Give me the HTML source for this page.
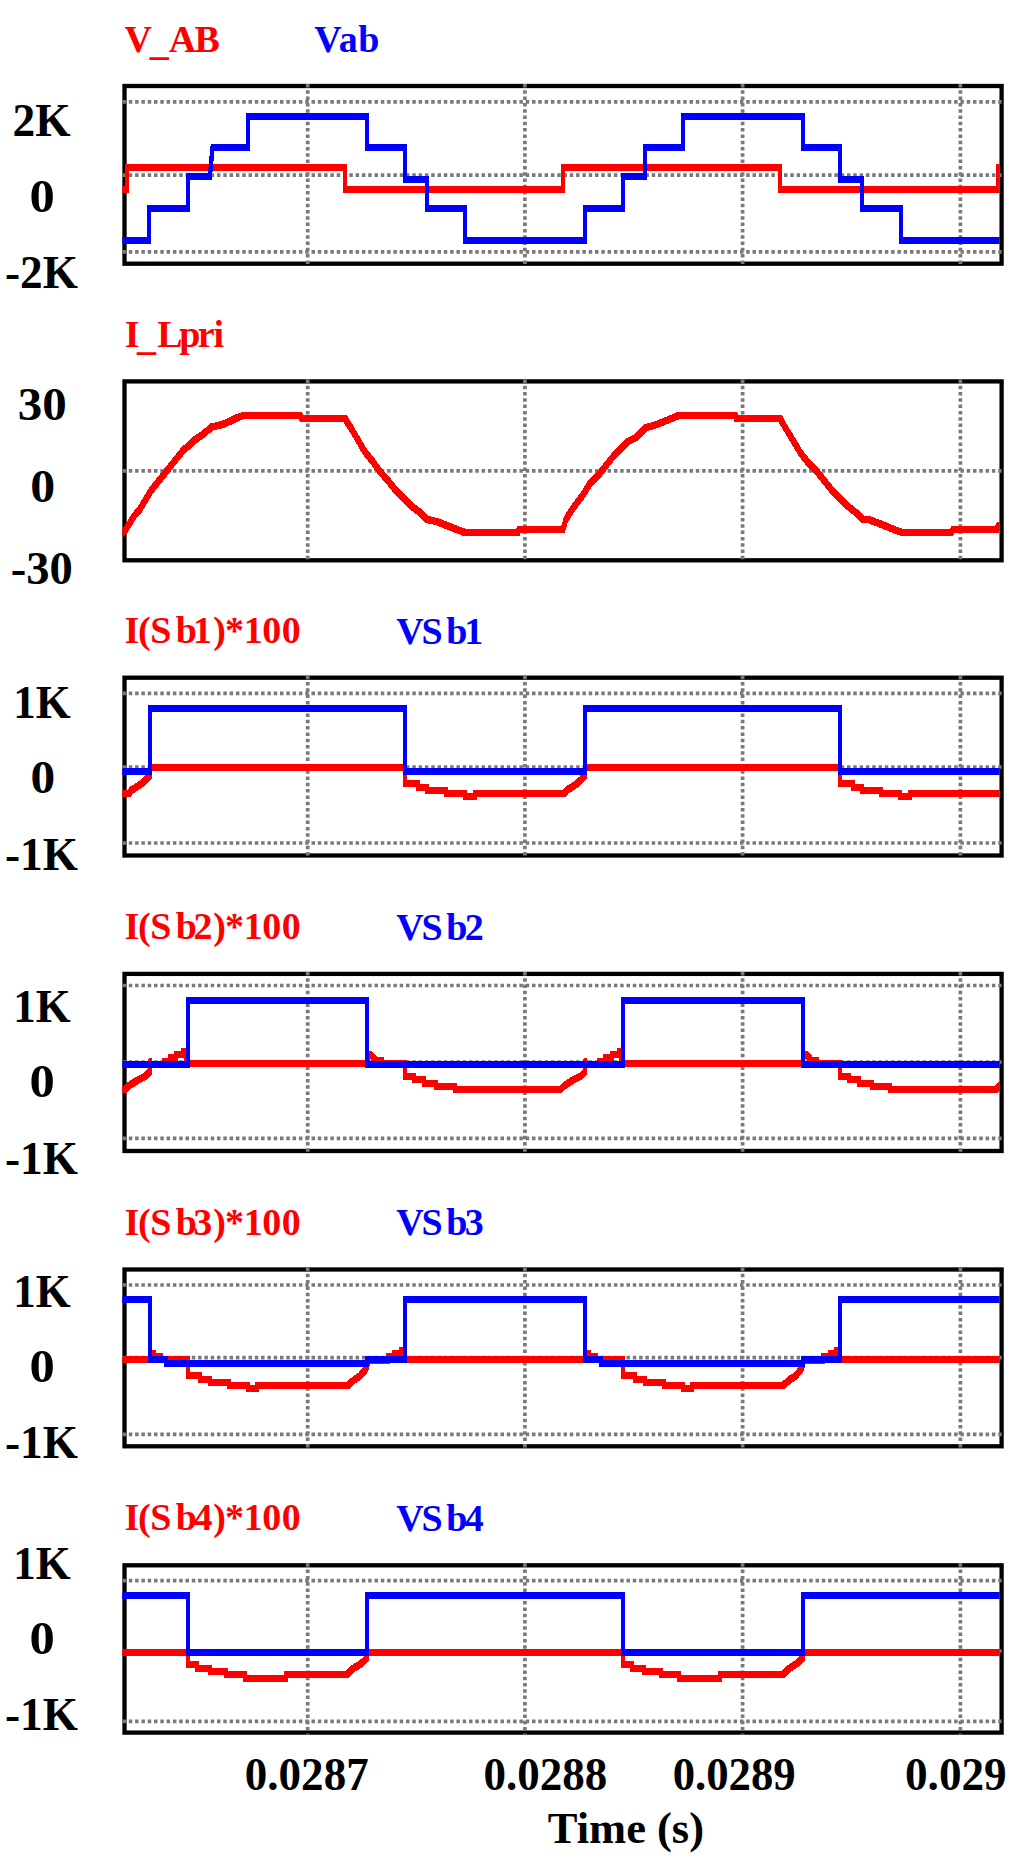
<!DOCTYPE html><html><head><meta charset="utf-8"><style>html,body{margin:0;padding:0;background:#fff;}svg{display:block;}text{font-family:"Liberation Serif",serif;font-weight:bold;}</style></head><body>
<svg width="1024" height="1863" viewBox="0 0 1024 1863">
<rect width="1024" height="1863" fill="#fff"/>
<rect x="124.5" y="86" width="877.1" height="177.7" fill="none" stroke="#000" stroke-width="4.3"/>
<rect x="124.5" y="381.4" width="877.1" height="178.9" fill="none" stroke="#000" stroke-width="4.3"/>
<rect x="124.5" y="677.7" width="877.1" height="177.8" fill="none" stroke="#000" stroke-width="4.3"/>
<rect x="124.5" y="973.9" width="877.1" height="177.1" fill="none" stroke="#000" stroke-width="4.3"/>
<rect x="124.5" y="1269.5" width="877.1" height="176.8" fill="none" stroke="#000" stroke-width="4.3"/>
<rect x="124.5" y="1565.3" width="877.1" height="167.3" fill="none" stroke="#000" stroke-width="4.3"/>
<path d="M122.5 101.9H1003.6M122.5 175.1H1003.6M122.5 251.9H1003.6M307.7 84V265.7M524.9 84V265.7M742.6 84V265.7M960.4 84V265.7M122.5 470.9H1003.6M307.7 379.4V562.3M524.9 379.4V562.3M742.6 379.4V562.3M960.4 379.4V562.3M122.5 693.4H1003.6M122.5 767H1003.6M122.5 843H1003.6M307.7 675.7V857.5M524.9 675.7V857.5M742.6 675.7V857.5M960.4 675.7V857.5M122.5 985.5H1003.6M122.5 1062H1003.6M122.5 1138.4H1003.6M307.7 971.9V1153M524.9 971.9V1153M742.6 971.9V1153M960.4 971.9V1153M122.5 1285H1003.6M122.5 1357.7H1003.6M122.5 1434.4H1003.6M307.7 1267.5V1448.3M524.9 1267.5V1448.3M742.6 1267.5V1448.3M960.4 1267.5V1448.3M122.5 1580.7H1003.6M122.5 1651H1003.6M122.5 1721.4H1003.6M307.7 1563.3V1734.6M524.9 1563.3V1734.6M742.6 1563.3V1734.6M960.4 1563.3V1734.6" stroke="#7a7a7a" stroke-width="3.7" stroke-linecap="butt" stroke-dasharray="3.5 2.8" fill="none"/>
<defs><filter id="pen" color-interpolation-filters="sRGB" filterUnits="userSpaceOnUse" x="0" y="0" width="1024" height="1863"><feMorphology operator="dilate" radius="1.0 2.0" result="d"/><feOffset in="d" dx="0" dy="1" result="o"/><feMerge><feMergeNode in="d"/><feMergeNode in="o"/></feMerge><feComponentTransfer><feFuncA type="linear" slope="3" intercept="-0.15"/></feComponentTransfer></filter></defs>
<clipPath id="cp"><rect x="122.3" y="0" width="877.4" height="1863"/></clipPath>
<g clip-path="url(#cp)">
<path d="M119 188.9 L127.3 188.9 L127.3 166.5 L345 166.5 L345 188.9 L562.7 188.9 L562.7 166.5 L780.1 166.5 L780.1 188.9 L998 188.9 L998 166.5 L1006 166.5" stroke="#ff0000" stroke-width="2.0" fill="none" shape-rendering="crispEdges" filter="url(#pen)"/>
<path d="M119 239.7 L149.3 239.7 L149.3 207.9 L188.2 207.9 L188.2 175.8 L209.9 175.8 L212.6 146.9 L248 146.9 L248 115.5 L366.9 115.5 L366.9 146.9 L405 146.9 L405 179.1 L427.4 179.1 L427.4 207.6 L465 207.6 L465 239.7 L585 239.7 L585 207.8 L623 207.8 L623 175.8 L645 175.8 L645 147.1 L682.8 147.1 L682.8 115.5 L802.8 115.5 L802.8 147.1 L840.4 147.1 L840.4 179 L862.2 179 L862.2 208 L900.8 208 L900.8 239.6 L1006 239.6" stroke="#0000ff" stroke-width="2.0" fill="none" shape-rendering="crispEdges" filter="url(#pen)"/>
<path d="M119 534.5 L125.9 528.8 L133.7 516.1 L139.5 509.3 L145.4 499.5 L151.3 489.7 L159.1 480 L166.9 470.2 L174.7 460.4 L182.5 450.7 L194.2 439.9 L204 433.1 L211.8 426.3 L221.6 424.3 L229.4 421 L237.2 417.1 L245 414.5 L299.7 414.5 L301.6 417.5 L344.9 417.5 L346.9 421.4 L350.8 427.2 L356.6 437 L364.5 450.7 L372.3 460.4 L380.1 471.2 L387.9 480 L395.7 489.7 L403.5 497.5 L411.3 505.4 L419.1 511.2 L427 519 L436.7 521 L446.5 524.9 L456.3 528.8 L464.1 531.7 L518 531.7 L519 528.8 L563 528.8 L565.9 519 L571.8 509.3 L577.7 501.5 L583.5 493.6 L589.4 483.9 L597.2 476.1 L605 466.3 L612.8 456.5 L620.6 448.7 L628.4 440.9 L636.3 437 L646 427.2 L655.8 424.3 L665.5 420.4 L675.3 416.5 L679.5 414.5 L735.2 414.5 L736.2 417.9 L780.1 417.9 L783 423.3 L788.9 433.1 L794.8 442.9 L800.6 452.6 L808.4 462.4 L816.3 470.2 L824.1 480 L831.9 489.7 L839.7 497.5 L847.5 505.4 L857.3 513.2 L862.2 518.5 L869.8 519.5 L877.4 522.3 L886.8 526.1 L896.3 529.9 L902 531.8 L951.3 531.8 L953.2 528.9 L996.7 528.9 L998.6 525.1 L1006 525.1" stroke="#ff0000" stroke-width="2.0" fill="none" shape-rendering="crispEdges" filter="url(#pen)"/>
<path d="M119 793.1 L128.9 793 L131.7 789.5 L136.7 786.5 L141.7 783 L145.7 779.5 L149.5 775.5 L149.5 767.2 L404.9 767.2 L404.9 783.1 L417.6 783.1 L417.6 786.7 L426.7 786.7 L426.7 789.9 L445.9 789.9 L445.9 793.1 L464.8 793.1 L464.8 796.3 L474.5 796.3 L474.5 793.1 L564.2 793 L567 789.5 L572 786.5 L577 783 L581 779.5 L584.8 775.5 L584.8 767.2 L840.2 767.2 L840.2 783.1 L852.9 783.1 L852.9 786.7 L862 786.7 L862 789.9 L881.2 789.9 L881.2 793.1 L900.1 793.1 L900.1 796.3 L909.8 796.3 L909.8 793.1 L1006 793.1" stroke="#ff0000" stroke-width="2.0" fill="none" shape-rendering="crispEdges" filter="url(#pen)"/>
<path d="M119 771.1 L150 771.1 L150 707.6 L404.8 707.6 L404.8 771.1 L585 771.1 L585 707.6 L840.4 707.6 L840.4 771.1 L1006 771.1" stroke="#0000ff" stroke-width="2.0" fill="none" shape-rendering="crispEdges" filter="url(#pen)"/>
<path d="M119 1088.8 L125.5 1088.8 L129.4 1085 L134.8 1081.5 L138.8 1079 L145.8 1075.5 L149.8 1071.5 L149.8 1060.7 L150.8 1063.5 L163.8 1063.5 L163.8 1060.7 L170 1060.7 L170 1057.1 L176.3 1057.1 L176.3 1054 L183.3 1054 L183.3 1050.9 L185.8 1050.9 L185.8 1063.3 L367.1 1063.3 L368.1 1053.8 L371.1 1054.5 L373.6 1057.3 L375.9 1060.3 L381.8 1060.3 L381.8 1063.3 L404.5 1063.3 L404.5 1076.1 L414.1 1076.1 L414.1 1079.3 L423.5 1079.3 L423.5 1082.5 L436.4 1082.5 L436.4 1085.7 L455.1 1085.7 L455.1 1089 L560.7 1088.8 L564.6 1085 L570 1081.5 L574 1079 L581 1075.5 L585 1071.5 L585 1060.7 L586 1063.5 L599 1063.5 L599 1060.7 L605.2 1060.7 L605.2 1057.1 L611.5 1057.1 L611.5 1054 L618.5 1054 L618.5 1050.9 L621 1050.9 L621 1063.3 L802.6 1063.3 L803.6 1053.8 L806.6 1054.5 L809.1 1057.3 L811.4 1060.3 L817.3 1060.3 L817.3 1063.3 L839.8 1063.3 L839.8 1076.1 L849.4 1076.1 L849.4 1079.3 L858.8 1079.3 L858.8 1082.5 L871.7 1082.5 L871.7 1085.7 L890.4 1085.7 L890.4 1089 L996 1088.8 L999.9 1085 L1005.3 1081.5 L1009.3 1079 L1016.3 1075.5 L1020.3 1071.5 L1020.3 1060.7 L1021.3 1063.5 L1034.3 1063.5 L1034.3 1060.7 L1040.5 1060.7 L1040.5 1057.1 L1046.8 1057.1 L1046.8 1054 L1053.8 1054 L1053.8 1050.9 L1056.3 1050.9 L1056.3 1063.3" stroke="#ff0000" stroke-width="2.0" fill="none" shape-rendering="crispEdges" filter="url(#pen)"/>
<path d="M119 1063.6 L188 1063.6 L188 1000 L366.7 1000 L366.7 1063.6 L623 1063.6 L623 1000 L802.8 1000 L802.8 1063.6 L1006 1063.6" stroke="#0000ff" stroke-width="2.0" fill="none" shape-rendering="crispEdges" filter="url(#pen)"/>
<path d="M119 1358.8 L149.6 1358.8 L150.6 1352.9 L153.6 1352.9 L153.6 1355.9 L161.1 1355.9 L161.1 1358.8 L188 1358.8 L188 1374.6 L200 1374.6 L200 1378.5 L209.7 1378.5 L209.7 1381.7 L228.8 1381.7 L228.8 1384.9 L247.5 1384.9 L247.5 1387.8 L256.6 1387.8 L256.6 1384.9 L347.8 1384.9 L350.5 1382.5 L354.8 1378.9 L359.9 1375.6 L363 1372.1 L365.6 1368.8 L367 1366 L368 1359.5 L388 1359.5 L388 1356 L394.3 1356 L394.3 1352.9 L400.5 1352.9 L400.5 1349.8 L403.5 1349.8 L403.5 1359.2 L584.8 1358.8 L585.8 1352.9 L588.8 1352.9 L588.8 1355.9 L596.3 1355.9 L596.3 1358.8 L623.3 1358.8 L623.3 1374.6 L635.3 1374.6 L635.3 1378.5 L645 1378.5 L645 1381.7 L664.1 1381.7 L664.1 1384.9 L682.8 1384.9 L682.8 1387.8 L691.9 1387.8 L691.9 1384.9 L783.2 1384.9 L785.9 1382.5 L790.2 1378.9 L795.3 1375.6 L798.4 1372.1 L801 1368.8 L802.4 1366 L803.4 1359.5 L823.4 1359.5 L823.4 1356 L829.7 1356 L829.7 1352.9 L835.9 1352.9 L835.9 1349.8 L838.9 1349.8 L838.9 1359.2 L1006 1359.2" stroke="#ff0000" stroke-width="2.0" fill="none" shape-rendering="crispEdges" filter="url(#pen)"/>
<path d="M119 1299.3 L149.5 1299.3 L149.5 1359.1 L165.5 1359.1 L165.5 1363 L366.9 1363 L366.9 1359.1 L405 1359.1 L405 1299.3 L584.8 1299.3 L584.8 1359.1 L601.1 1359.1 L601.1 1363 L803 1363 L803 1359.1 L840.4 1359.1 L840.4 1299.3 L1006 1299.3" stroke="#0000ff" stroke-width="2.0" fill="none" shape-rendering="crispEdges" filter="url(#pen)"/>
<path d="M119 1651.8 L188 1651.8 L188 1664.4 L196.7 1664.4 L196.7 1667.9 L209.6 1667.9 L209.6 1671.1 L225.7 1671.1 L225.7 1674.1 L244.5 1674.1 L244.5 1677.6 L285.5 1677.6 L285.5 1674.1 L347.1 1674.5 L350 1671 L354 1667.5 L359 1664.5 L363 1661.5 L367 1657.5 L367 1651.8 L622.8 1651.8 L622.8 1664.4 L631.5 1664.4 L631.5 1667.9 L644.4 1667.9 L644.4 1671.1 L660.5 1671.1 L660.5 1674.1 L679.3 1674.1 L679.3 1677.6 L720.3 1677.6 L720.3 1674.1 L782.9 1674.5 L785.8 1671 L789.8 1667.5 L794.8 1664.5 L798.8 1661.5 L802.8 1657.5 L802.8 1651.8 L1006 1652" stroke="#ff0000" stroke-width="2.0" fill="none" shape-rendering="crispEdges" filter="url(#pen)"/>
<path d="M119 1594.7 L187.7 1594.7 L187.7 1651.9 L366.7 1651.9 L366.7 1594.5 L622.8 1594.5 L622.8 1651.9 L802.8 1651.9 L802.8 1594.5 L1006 1594.5" stroke="#0000ff" stroke-width="2.0" fill="none" shape-rendering="crispEdges" filter="url(#pen)"/>
</g>
<text x="12.52" y="135.8" font-size="46" fill="#000000" textLength="58.06" lengthAdjust="spacingAndGlyphs">2K</text>
<text x="29.5" y="211.6" font-size="46" fill="#000000" textLength="25.3" lengthAdjust="spacingAndGlyphs">0</text>
<text x="5.03" y="288.1" font-size="46" fill="#000000" textLength="72.87" lengthAdjust="spacingAndGlyphs">-2K</text>
<text x="17.87" y="420.2" font-size="46" fill="#000000" textLength="48.96" lengthAdjust="spacingAndGlyphs">30</text>
<text x="30.33" y="502.3" font-size="46" fill="#000000" textLength="24.94" lengthAdjust="spacingAndGlyphs">0</text>
<text x="10.78" y="584.3" font-size="46" fill="#000000" textLength="61.96" lengthAdjust="spacingAndGlyphs">-30</text>
<text x="13.3" y="718.1" font-size="46" fill="#000000" textLength="57.29" lengthAdjust="spacingAndGlyphs">1K</text>
<text x="30.55" y="793.2" font-size="46" fill="#000000" textLength="24.69" lengthAdjust="spacingAndGlyphs">0</text>
<text x="5.03" y="869.9" font-size="46" fill="#000000" textLength="72.87" lengthAdjust="spacingAndGlyphs">-1K</text>
<text x="13.3" y="1021.8" font-size="46" fill="#000000" textLength="57.29" lengthAdjust="spacingAndGlyphs">1K</text>
<text x="29.5" y="1097" font-size="46" fill="#000000" textLength="25.3" lengthAdjust="spacingAndGlyphs">0</text>
<text x="5.03" y="1173.7" font-size="46" fill="#000000" textLength="72.87" lengthAdjust="spacingAndGlyphs">-1K</text>
<text x="13.3" y="1307" font-size="46" fill="#000000" textLength="57.29" lengthAdjust="spacingAndGlyphs">1K</text>
<text x="29.5" y="1382.2" font-size="46" fill="#000000" textLength="25.3" lengthAdjust="spacingAndGlyphs">0</text>
<text x="5.03" y="1458.3" font-size="46" fill="#000000" textLength="72.87" lengthAdjust="spacingAndGlyphs">-1K</text>
<text x="13.3" y="1578.5" font-size="46" fill="#000000" textLength="57.29" lengthAdjust="spacingAndGlyphs">1K</text>
<text x="29.5" y="1653.5" font-size="46" fill="#000000" textLength="25.3" lengthAdjust="spacingAndGlyphs">0</text>
<text x="5.03" y="1730" font-size="46" fill="#000000" textLength="72.87" lengthAdjust="spacingAndGlyphs">-1K</text>
<text x="244.84" y="1790" font-size="46" fill="#000000" textLength="123.83" lengthAdjust="spacingAndGlyphs">0.0287</text>
<text x="483.54" y="1790" font-size="46" fill="#000000" textLength="123.72" lengthAdjust="spacingAndGlyphs">0.0288</text>
<text x="672.66" y="1790" font-size="46" fill="#000000" textLength="123" lengthAdjust="spacingAndGlyphs">0.0289</text>
<text x="905.04" y="1790" font-size="46" fill="#000000" textLength="101.64" lengthAdjust="spacingAndGlyphs">0.029</text>
<text x="547.79" y="1843.1" font-size="44" fill="#000000" textLength="156.22" lengthAdjust="spacingAndGlyphs">Time (s)</text>
<text font-size="38" fill="#ff0000"><tspan x="124.55" y="52">V</tspan><tspan x="149.7" y="55">_</tspan><tspan x="168.8" y="52">A</tspan><tspan x="194.55" y="52">B</tspan></text>
<text font-size="38" fill="#0000ff"><tspan x="314.35" y="52">V</tspan><tspan x="338.8" y="52">a</tspan><tspan x="358.3" y="52">b</tspan></text>
<text font-size="38" fill="#ff0000"><tspan x="124.75" y="346.8">I</tspan><tspan x="136.95" y="349.8">_</tspan><tspan x="157.3" y="346.8">L</tspan><tspan x="179.25" y="346.8">p</tspan><tspan x="197.7" y="346.8">r</tspan><tspan x="213.45" y="346.8">i</tspan></text>
<text font-size="38" fill="#ff0000"><tspan x="124.45" y="643">I</tspan><tspan x="137.9" y="643">(</tspan><tspan x="150.35" y="643">S</tspan><tspan x="175.75" y="643">b</tspan><tspan x="192.9" y="643">1</tspan><tspan x="213.15" y="643">)</tspan><tspan x="225.1" y="643">*</tspan><tspan x="243.7" y="643">1</tspan><tspan x="262.35" y="643">0</tspan><tspan x="281.85" y="643">0</tspan></text>
<text font-size="38" fill="#0000ff"><tspan x="396.3" y="643.5">V</tspan><tspan x="421.5" y="643.5">S</tspan><tspan x="446.25" y="643.5">b</tspan><tspan x="464.25" y="643.5">1</tspan></text>
<text font-size="38" fill="#ff0000"><tspan x="124.45" y="939">I</tspan><tspan x="137.9" y="939">(</tspan><tspan x="150.35" y="939">S</tspan><tspan x="175.75" y="939">b</tspan><tspan x="193.4" y="939">2</tspan><tspan x="213.15" y="939">)</tspan><tspan x="225.1" y="939">*</tspan><tspan x="243.7" y="939">1</tspan><tspan x="262.35" y="939">0</tspan><tspan x="281.85" y="939">0</tspan></text>
<text font-size="38" fill="#0000ff"><tspan x="396.3" y="939.5">V</tspan><tspan x="421.5" y="939.5">S</tspan><tspan x="446.25" y="939.5">b</tspan><tspan x="464.75" y="939.5">2</tspan></text>
<text font-size="38" fill="#ff0000"><tspan x="124.45" y="1234.5">I</tspan><tspan x="137.9" y="1234.5">(</tspan><tspan x="150.35" y="1234.5">S</tspan><tspan x="175.75" y="1234.5">b</tspan><tspan x="193.35" y="1234.5">3</tspan><tspan x="213.15" y="1234.5">)</tspan><tspan x="225.1" y="1234.5">*</tspan><tspan x="243.7" y="1234.5">1</tspan><tspan x="262.35" y="1234.5">0</tspan><tspan x="281.85" y="1234.5">0</tspan></text>
<text font-size="38" fill="#0000ff"><tspan x="396.3" y="1235">V</tspan><tspan x="421.5" y="1235">S</tspan><tspan x="446.25" y="1235">b</tspan><tspan x="464.7" y="1235">3</tspan></text>
<text font-size="38" fill="#ff0000"><tspan x="124.45" y="1530.4">I</tspan><tspan x="137.9" y="1530.4">(</tspan><tspan x="150.35" y="1530.4">S</tspan><tspan x="175.75" y="1530.4">b</tspan><tspan x="193.5" y="1530.4">4</tspan><tspan x="213.15" y="1530.4">)</tspan><tspan x="225.1" y="1530.4">*</tspan><tspan x="243.7" y="1530.4">1</tspan><tspan x="262.35" y="1530.4">0</tspan><tspan x="281.85" y="1530.4">0</tspan></text>
<text font-size="38" fill="#0000ff"><tspan x="396.3" y="1530.9">V</tspan><tspan x="421.5" y="1530.9">S</tspan><tspan x="446.25" y="1530.9">b</tspan><tspan x="464.85" y="1530.9">4</tspan></text>
</svg></body></html>
